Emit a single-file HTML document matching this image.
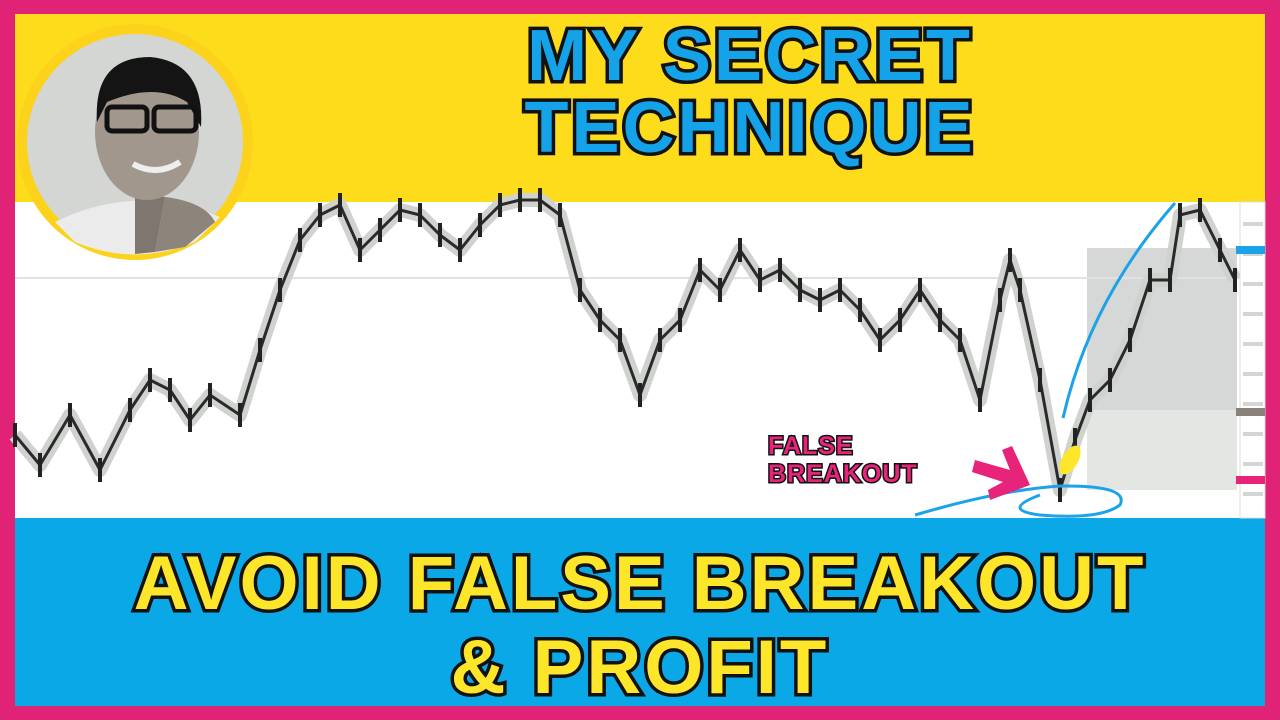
<!DOCTYPE html>
<html><head><meta charset="utf-8"><style>
body{margin:0;width:1280px;height:720px;overflow:hidden;background:#e02377;font-family:"Liberation Sans",sans-serif}
.abs{position:absolute}
.t{font-weight:900;text-align:center;letter-spacing:3px;-webkit-text-stroke:7px #111;paint-order:stroke fill;line-height:1;stroke-linejoin:round}
</style></head><body>
<div class="abs" style="left:15px;top:14px;width:1250px;height:188px;background:#fddc1c"></div>
<div class="abs" style="left:15px;top:202px;width:1250px;height:316px;background:#fff"></div>
<div class="abs" style="left:15px;top:518px;width:1250px;height:188px;background:#0ba8e8"></div>
<svg class="abs" style="left:0;top:0" width="1280" height="720" id="chart"></svg>
<div class="abs t" style="left:430px;top:20px;width:640px;font-size:72px;color:#14a3e8">MY SECRET<br>TECHNIQUE</div>
<div class="abs t" style="left:60px;top:542px;width:1160px;font-size:76px;color:#fde62a;line-height:1.1">AVOID FALSE BREAKOUT<br>&amp; PROFIT</div>
<div class="abs t" style="left:768px;top:433px;width:180px;font-size:25px;color:#e8237a;-webkit-text-stroke:3px #111;text-align:left;letter-spacing:1px;line-height:1.1">FALSE<br>BREAKOUT</div>
<svg class="abs" style="left:15px;top:22px" width="245" height="245">
<circle cx="120" cy="120" r="118" fill="#fcd21a"/>
<circle cx="120" cy="120" r="108" fill="#d4d6d3"/>
<path d="M40 200 Q120 160 205 195 L180 220 Q120 245 60 220Z" fill="#ebebeb"/>
<path d="M150 175 Q190 180 200 200 L170 225 L140 230Z" fill="#8d847c"/>
<path d="M120 170 L150 175 L140 230 L120 232Z" fill="#7f776f"/>
<ellipse cx="132" cy="110" rx="52" ry="68" fill="#a2978d"/>
<path d="M82 100 Q78 35 135 35 Q190 40 186 105 L172 80 Q140 60 92 80Z" fill="#141414"/>
<rect x="92" y="85" width="40" height="24" rx="5" fill="none" stroke="#111" stroke-width="5"/>
<rect x="139" y="85" width="42" height="24" rx="5" fill="none" stroke="#111" stroke-width="5"/>
<path d="M118 142 Q142 155 165 140" stroke="#eee" stroke-width="6" fill="none"/>
</svg>
<script>
const xs=[15,40,70,100,130,150,170,190,210,240,260,280,300,320,340,360,380,400,420,440,460,480,500,520,540,560,580,600,620,640,660,680,700,720,740,760,780,800,820,840,860,880,900,920,940,960,980,1000,1010,1020,1040,1060,1075,1090,1110,1130,1150,1170,1180,1200,1220,1235];
const prices=[83,53,103,48,108,138,128,98,123,103,168,228,278,303,313,268,288,308,303,283,268,293,313,318,318,303,228,198,178,123,178,198,248,228,268,238,248,228,218,228,208,178,198,228,198,178,118,218,258,228,138,28,78,118,138,178,238,238,303,308,268,238];
const svg=document.getElementById('chart');
const NS='http://www.w3.org/2000/svg';
const yScale=v=>518-v;
function el(t,a){const e=document.createElementNS(NS,t);for(const k in a)e.setAttribute(k,a[k]);svg.appendChild(e);return e;}
const box1=el('rect',{x:1087,y:248,width:150,height:162,fill:'#d5d8d6'});


const box2=el('rect',{x:1087,y:410,width:150,height:80,fill:'#e4e6e4'});


const hl=el('line',{x1:15,y1:278,x2:1240,y2:278,stroke:'#e2e2e2','stroke-width':2});


let d='';prices.forEach((p,i)=>{d+=(i?'L':'M')+xs[i]+' '+yScale(p);});
const halo=el('path',{d:d,fill:'none',stroke:'#cfd2cf','stroke-width':14,'stroke-linejoin':'round'});


const line=el('path',{d:d,fill:'none',stroke:'#2a2a2a','stroke-width':3,'stroke-linejoin':'round'});


prices.forEach((p,i)=>{const c=el('rect',{x:xs[i]-2,y:yScale(p)-12,width:4,height:24,fill:'#222'});

});
const ax=el('rect',{x:1240,y:202,width:25,height:316,fill:'#fff',stroke:'#ddd'});


for(let y=222;y<518;y+=30){const t=el('rect',{x:1243,y:y,width:20,height:4,fill:'#d5d5d5'});}
const m1=el('rect',{x:1236,y:246,width:29,height:8,fill:'#1ba3e8'});
const m2=el('rect',{x:1236,y:408,width:29,height:8,fill:'#8a817a'});
const m3=el('rect',{x:1236,y:476,width:29,height:8,fill:'#e8237a'});
const cu=el('path',{d:'M1063 418 Q1090 300 1175 203',fill:'none',stroke:'#1ba3e8','stroke-width':3});
const ci=el('path',{d:'M915 515 Q1000 490 1060 486 Q1130 485 1120 505 Q1100 520 1040 515 Q1000 510 1040 495',fill:'none',stroke:'#1ba3e8','stroke-width':3});
const ar=el('path',{d:'M975 460 L1010 470 L1002 450 L1012 446 L1030 485 L990 500 L988 490 L1003 482 L972 472Z',fill:'#e8237a'});
const hi=el('ellipse',{cx:1070,cy:460,rx:8,ry:16,fill:'#fde62a',transform:'rotate(30 1070 460)'});
</script>
</body></html>
